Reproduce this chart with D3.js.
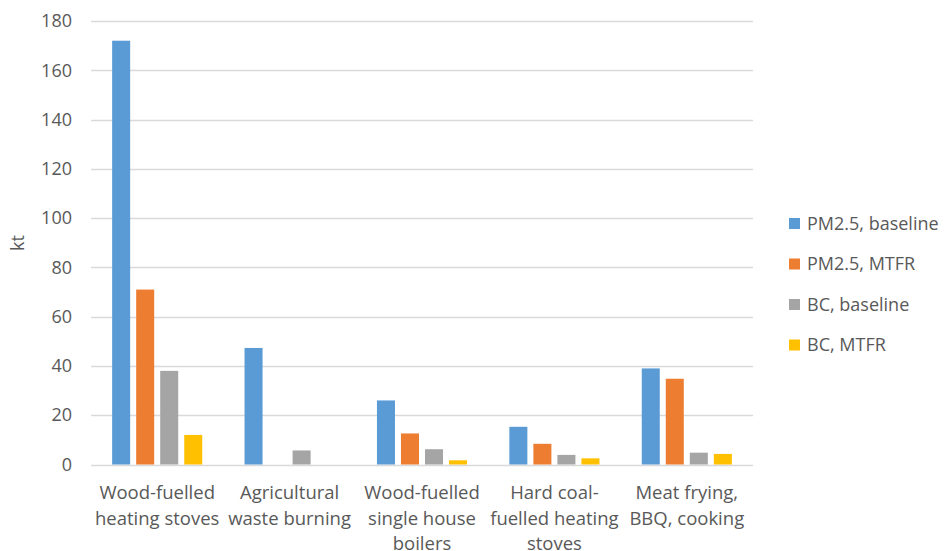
<!DOCTYPE html>
<html>
<head>
<meta charset="utf-8">
<script src="https://cdn.jsdelivr.net/npm/d3@7"></script>
<style>
  html, body { margin: 0; padding: 0; background: #fff; }
  svg { display: block; }
  text { font-family: "Open Sans", "Liberation Sans", sans-serif; fill: #595959; }
</style>
</head>
<body>
<svg id="chart" width="944" height="551"></svg>
<script>
// Emission sources (category labels, split into lines)
const categories = [
  ["Wood-fuelled", "heating stoves"],
  ["Agricultural", "waste burning"],
  ["Wood-fuelled", "single house", "boilers"],
  ["Hard coal-", "fuelled heating", "stoves"],
  ["Meat frying,", "BBQ, cooking"]
];
const seriesNames = ["PM2.5, baseline", "PM2.5, MTFR", "BC, baseline", "BC, MTFR"];
const pm25Baseline = [172, 47.3, 26, 15.3, 39];
const pm25Mtfr     = [71, 0, 12.6, 8.4, 34.8];
const bcBaseline   = [38, 5.7, 6.2, 3.9, 4.8];
const bcMtfr       = [12, 0, 1.7, 2.5, 4.3];
const yTicks = [0, 20, 40, 60, 80, 100, 120, 140, 160, 180];
const colors = ["#5B9BD5", "#ED7D31", "#A5A5A5", "#FFC000"];

const seriesValues = [pm25Baseline, pm25Mtfr, bcBaseline, bcMtfr];
const rows = categories.map((c, i) => ({
  key: i,
  values: seriesNames.map((s, j) => ({ series: s, value: seriesValues[j][i] }))
}));

const svg = d3.select("#chart");
const plot = { left: 91, right: 753, top: 21, bottom: 464.5 };
const fontFamily = '"Open Sans", "Liberation Sans", sans-serif';

const y = d3.scaleLinear().domain([0, 180]).range([plot.bottom, plot.top]);
const x0 = d3.scaleBand().domain(rows.map(r => r.key)).range([plot.left, plot.right]).padding(0);
const x1 = d3.scaleBand().domain(seriesNames).range([0, x0.bandwidth()])
  .paddingInner(0.25).paddingOuter(0.88);
const color = d3.scaleOrdinal().domain(seriesNames).range(colors);

// Gridlines
svg.append("g")
  .selectAll("line")
  .data(yTicks)
  .join("line")
  .attr("x1", plot.left).attr("x2", plot.right)
  .attr("y1", d => Math.round(y(d)) + 0.5).attr("y2", d => Math.round(y(d)) + 0.5)
  .attr("stroke", "#D9D9D9").attr("stroke-width", 1.3);

// Y axis labels
const yAxis = d3.axisLeft(y).tickValues(yTicks).tickSize(0).tickPadding(0);
const yg = svg.append("g").attr("transform", `translate(${plot.left - 19},0)`).call(yAxis);
yg.select(".domain").remove();
yg.selectAll("text").attr("font-size", 18).attr("fill", "#595959")
  .style("font-family", fontFamily);

// Y axis title
svg.append("text")
  .attr("transform", "translate(24,243) rotate(-90)")
  .attr("text-anchor", "middle")
  .attr("font-size", 18)
  .text("kt");

// Bars
svg.append("g")
  .selectAll("g")
  .data(rows)
  .join("g")
  .attr("transform", d => `translate(${x0(d.key)},0)`)
  .selectAll("rect")
  .data(d => d.values.filter(v => v.value > 0))
  .join("rect")
  .attr("x", d => x1(d.series))
  .attr("width", x1.bandwidth())
  .attr("y", d => y(d.value))
  .attr("height", d => y(0) - y(d.value))
  .attr("fill", d => color(d.series));

// Category labels
const catG = svg.append("g");
rows.forEach((r, i) => {
  const cx = x0(r.key) + x0.bandwidth() / 2;
  const t = catG.append("text")
    .attr("x", cx)
    .attr("y", 499)
    .attr("text-anchor", "middle")
    .attr("font-size", 18.5);
  categories[i].forEach((line, k) => {
    t.append("tspan")
      .attr("x", cx)
      .attr("dy", k === 0 ? 0 : 25.5)
      .text(line);
  });
});

// Legend
const legend = svg.append("g")
  .selectAll("g")
  .data(seriesNames)
  .join("g")
  .attr("transform", (d, i) => `translate(789,${223.5 + i * 40.5})`);
legend.append("rect")
  .attr("x", 0).attr("y", -5.5).attr("width", 11).attr("height", 11)
  .attr("fill", d => color(d));
legend.append("text")
  .attr("x", 18).attr("y", 0).attr("dy", "0.35em")
  .attr("font-size", 18)
  .text(d => d);
</script>
</body>
</html>
